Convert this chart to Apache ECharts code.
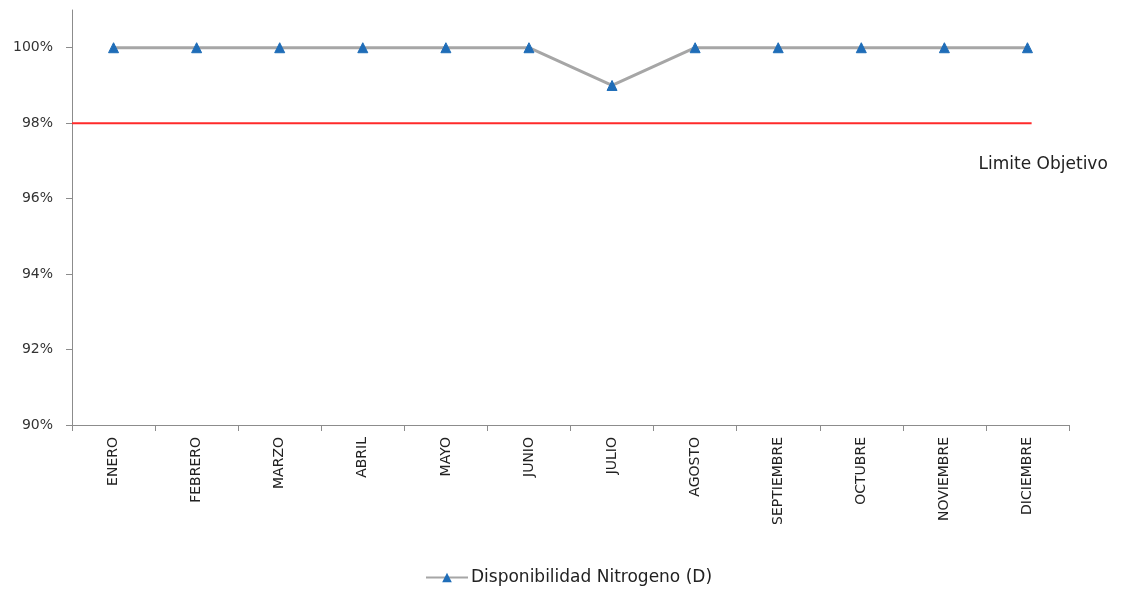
<!DOCTYPE html>
<html>
<head>
<meta charset="utf-8">
<style>
  html, body { margin: 0; padding: 0; background: #ffffff; }
  #chart { width: 1126px; height: 590px; }
</style>
<script src="https://cdn.jsdelivr.net/npm/echarts@6/dist/echarts.min.js"></script>
</head>
<body>
<div id="chart"></div>
<script>
// Monthly categories
const months = ['ENERO', 'FEBRERO', 'MARZO', 'ABRIL', 'MAYO', 'JUNIO', 'JULIO',
  'AGOSTO', 'SEPTIEMBRE', 'OCTUBRE', 'NOVIEMBRE', 'DICIEMBRE'];
// Nitrogen availability per month (%)
const disponibilidad = [100, 100, 100, 100, 100, 100, 99, 100, 100, 100, 100, 100];
// Target limit (%), drawn from the axis start to just past the last month centre
const limiteX = [0, 11.55];
const limiteY = [98, 98];
// Y tick labels (%)
const yTicks = [90, 92, 94, 96, 98, 100];

const FONT = '"DejaVu Sans", "Open Sans", sans-serif';
const chart = echarts.init(document.getElementById('chart'), null, { renderer: 'canvas' });

chart.setOption({
  animation: false,
  backgroundColor: '#ffffff',
  grid: { left: 72, right: 57, top: 10, bottom: 165, containLabel: false },
  legend: {
    data: ['Disponibilidad Nitrogeno (D)'],
    top: 569,
    left: 425,
    itemWidth: 42,
    itemHeight: 12,
    itemGap: 4,
    padding: 0,
    textStyle: { fontFamily: FONT, fontSize: 17, color: '#222', padding: [0, 0, 0, -2] }
  },
  xAxis: [
    {
      type: 'category',
      data: months,
      boundaryGap: true,
      axisLine: { lineStyle: { color: '#8c8c8c', width: 1 } },
      axisTick: { show: true, length: 6, lineStyle: { color: '#8c8c8c' } },
      axisLabel: {
        rotate: 90,
        margin: 12,
        fontFamily: FONT,
        fontSize: 14,
        color: '#222'
      },
      splitLine: { show: false }
    },
    {
      type: 'value',
      min: 0,
      max: 12,
      show: false
    }
  ],
  yAxis: {
    type: 'value',
    min: 90,
    max: 101,
    interval: 2,
    axisLine: { show: true, lineStyle: { color: '#8c8c8c', width: 1 } },
    axisTick: { show: true, length: 6, lineStyle: { color: '#8c8c8c' }, customValues: yTicks },
    axisLabel: {
      customValues: yTicks,
      formatter: v => v + '%',
      fontFamily: FONT,
      fontSize: 14,
      color: '#333',
      margin: 19
    },
    splitLine: { show: false }
  },
  series: [
    {
      name: 'Disponibilidad Nitrogeno (D)',
      type: 'line',
      xAxisIndex: 0,
      data: disponibilidad,
      symbol: 'triangle',
      symbolSize: 10,
      itemStyle: { color: '#1f6db8', borderColor: '#1f6db8' },
      lineStyle: { color: '#a6a6a6', width: 3 },
      z: 3
    },
    {
      name: 'Limite Objetivo',
      type: 'line',
      xAxisIndex: 1,
      data: limiteX.map((x, i) => [x, limiteY[i]]),
      symbol: 'circle',
      symbolSize: 0.1,
      showSymbol: true,
      lineStyle: { color: '#ff2a2a', width: 2 },
      itemStyle: { color: '#ff2a2a' },
      label: {
        show: true,
        position: 'inside',
        align: 'left',
        verticalAlign: 'middle',
        offset: [-53, 41],
        fontFamily: FONT,
        fontSize: 17,
        color: '#222',
        formatter: p => (p.dataIndex === limiteX.length - 1 ? 'Limite Objetivo' : '')
      },
      z: 2
    }
  ]
});
</script>
</body>
</html>
